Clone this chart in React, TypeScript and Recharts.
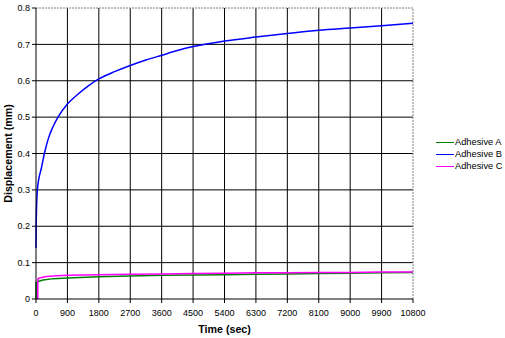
import React from 'react';
import { LineChart, Line, XAxis, YAxis, ReferenceLine, Legend } from 'recharts';

const FONT = '"Liberation Sans", Arial, sans-serif';

const xTicks = [0, 900, 1800, 2700, 3600, 4500, 5400, 6300, 7200, 8100, 9000, 9900, 10800];
const yTicks = [0, 0.1, 0.2, 0.3, 0.4, 0.5, 0.6, 0.7, 0.8];
const xGrid = [900, 1800, 2700, 3600, 4500, 5400, 6300, 7200, 8100, 9000, 9900];
const yGrid = [0.1, 0.2, 0.3, 0.4, 0.5, 0.6, 0.7];

const timeA = [0, 1, 60, 200, 500, 900, 1800, 2700, 3600, 4500, 5400, 6300, 7200, 8100, 9000, 9900, 10800];
const dispA = [0, 0.045, 0.048, 0.052, 0.056, 0.058, 0.061, 0.063, 0.065, 0.066, 0.067, 0.068, 0.069, 0.070, 0.071, 0.072, 0.073];

const timeB = [0, 5, 15, 40, 80, 150, 240, 360, 480, 630, 900, 1200, 1500, 1800, 2250, 2700, 3150, 3600, 4050, 4500, 5400, 6300, 7200, 8100, 9000, 9900, 10800];
const dispB = [0.14, 0.2, 0.25, 0.3, 0.33, 0.358, 0.4, 0.443, 0.472, 0.5, 0.536, 0.563, 0.586, 0.605, 0.625, 0.642, 0.657, 0.67, 0.683, 0.694, 0.709, 0.72, 0.73, 0.739, 0.745, 0.751, 0.758];

const timeC = [50, 52, 100, 300, 600, 900, 1800, 2700, 3600, 4500, 5400, 6300, 7200, 8100, 9000, 9900, 10800];
const dispC = [0, 0.055, 0.058, 0.062, 0.064, 0.065, 0.067, 0.068, 0.069, 0.070, 0.071, 0.072, 0.072, 0.073, 0.073, 0.074, 0.074];

const seriesNames = ['Adhesive A', 'Adhesive B', 'Adhesive C'];
const seriesColors = ['#008000', '#0000FF', '#FF00FF'];

const toData = (t: number[], v: number[]) => t.map((x, i) => ({ t: x, v: v[i] }));
const dataA = toData(timeA, dispA);
const dataB = toData(timeB, dispB);
const dataC = toData(timeC, dispC);

const renderLegend = (props: any) => {
  const { payload } = props;
  return (
    <div style={{ fontFamily: FONT, fontSize: 9.3, color: '#000' }}>
      {(payload || []).map((entry: any, i: number) => (
        <div key={i} style={{ display: 'flex', alignItems: 'center', height: 12, whiteSpace: 'nowrap' }}>
          <svg width={18} height={12} style={{ display: 'block' }}>
            <line x1={0} y1={6.5} x2={18} y2={6.5} stroke={entry.color} strokeWidth={1} />
          </svg>
          <span style={{ marginLeft: 1 }}>{entry.value}</span>
        </div>
      ))}
    </div>
  );
};

const tickStyle = { fontFamily: FONT, fontSize: 9, fill: '#000' };

export default function App() {
  return (
    <div style={{ position: 'absolute', left: 0, top: 0, width: 505, height: 338, background: '#fff' }}>
      <LineChart width={505} height={338} margin={{ top: 8, right: 92, left: 0, bottom: 0 }}>
        <XAxis
          dataKey="t"
          type="number"
          domain={[0, 10800]}
          ticks={xTicks}
          interval={0}
          height={39}
          tickSize={4}
          tickMargin={7}
          axisLine={{ stroke: '#000' }}
          tickLine={{ stroke: '#000' }}
          tick={tickStyle}
          allowDuplicatedCategory={false}
          label={{ value: 'Time (sec)', position: 'insideBottom', offset: 5, style: { fontFamily: FONT, fontSize: 10.7, fontWeight: 'bold', fill: '#000' } }}
        />
        <YAxis
          dataKey="v"
          type="number"
          domain={[0, 0.8]}
          ticks={yTicks}
          interval={0}
          width={36}
          tickSize={4}
          tickMargin={2}
          axisLine={{ stroke: '#000' }}
          tickLine={{ stroke: '#000' }}
          tick={tickStyle}
          label={{ value: 'Displacement (mm)', angle: -90, position: 'insideLeft', offset: 8, style: { textAnchor: 'middle', fontFamily: FONT, fontSize: 10.7, fontWeight: 'bold', fill: '#000' } }}
        />
        {yGrid.map((y) => (
          <ReferenceLine key={'y' + y} y={y} stroke="#000" strokeWidth={1} ifOverflow="visible" />
        ))}
        {xGrid.map((x) => (
          <ReferenceLine key={'x' + x} x={x} stroke="#000" strokeWidth={1} ifOverflow="visible" />
        ))}
        <ReferenceLine y={0.8} stroke="#808080" strokeWidth={1} strokeDasharray="2 1" />
        <ReferenceLine x={10800} stroke="#808080" strokeWidth={1} strokeDasharray="2 1" />
        <Legend
          layout="vertical"
          align="center"
          verticalAlign="middle"
          content={renderLegend}
          wrapperStyle={{ left: 436, top: 136, width: 'auto' }}
        />
        <Line data={dataA} dataKey="v" name={seriesNames[0]} stroke={seriesColors[0]} strokeWidth={1.5} dot={false} type="linear" isAnimationActive={false} />
        <Line data={dataB} dataKey="v" name={seriesNames[1]} stroke={seriesColors[1]} strokeWidth={1.5} dot={false} type="monotone" isAnimationActive={false} />
        <Line data={dataC} dataKey="v" name={seriesNames[2]} stroke={seriesColors[2]} strokeWidth={1.5} dot={false} type="linear" isAnimationActive={false} />
      </LineChart>
    </div>
  );
}
